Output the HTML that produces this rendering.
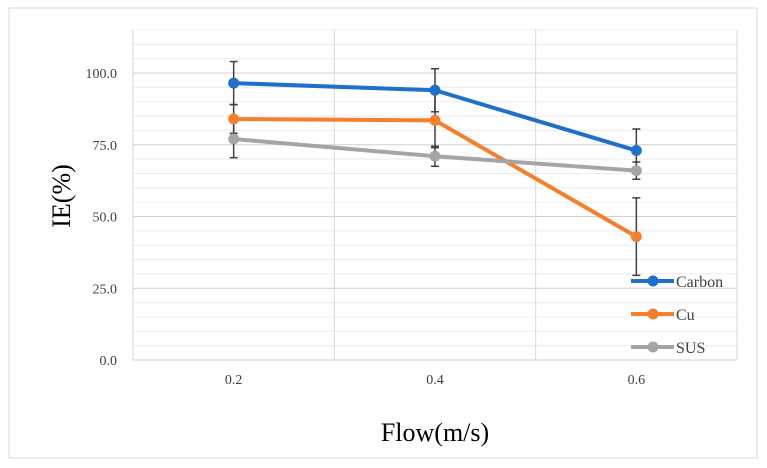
<!DOCTYPE html>
<html><head><meta charset="utf-8"><style>
body{margin:0;background:#fff;}
svg{display:block;font-family:"Liberation Serif",serif;}
</style></head><body>
<svg id="chart" width="767" height="468"></svg>
<script>
const categories=["0.2","0.4","0.6"];
const carbon=[96.5,94,73];
const cu=[84,83.5,43];
const sus=[77,71,66];
const carbonErr=[7.5,7.5,7.5];
const cuErr=[5,9.5,13.5];
const susErr=[6.5,3.5,3];
const yTicks=[0,25,50,75,100];
const seriesNames=["Carbon","Cu","SUS"];

const NS="http://www.w3.org/2000/svg";
const svg=document.getElementById('chart');
function mk(t,a,p){const e=document.createElementNS(NS,t);for(const k in a)e.setAttribute(k,a[k]);(p||svg).appendChild(e);return e;}
const L=133,R=737,T=30,B=360,yMax=115;
const y=v=>B-(v/yMax)*(B-T);
const x=i=>L+(R-L)*(i+0.5)/categories.length;

const frame=mk('rect',{x:9,y:8,width:748,height:450,fill:'#fff',stroke:'#d9d9d9'});



for(let v=5;v<=yMax;v+=5){
  const g=mk('line',{x1:L,x2:R,y1:y(v),y2:y(v),stroke:v%25===0?'#d0d0d0':'#ececec','stroke-width':1});
  
  
}
for(let i=0;i<=categories.length;i++){
  const xv=L+(R-L)*i/categories.length;
  const g=mk('line',{x1:xv,x2:xv,y1:T,y2:B,stroke:'#d9d9d9'});
  
  
}
const ax=mk('line',{x1:L,x2:R,y1:B,y2:B,stroke:'#d0d0d0'});



yTicks.forEach(v=>{
  const t=mk('text',{x:117,y:y(v)+5,'text-anchor':'end','font-size':14,fill:'#404040'});
  t.textContent=v.toFixed(1);
  
  
});
categories.forEach((c,i)=>{
  const t=mk('text',{x:x(i),y:384,'text-anchor':'middle','font-size':14,fill:'#404040'});
  t.textContent=c;
  
  
});
const yt=mk('text',{x:0,y:0,'text-anchor':'middle','font-size':26,fill:'#000',transform:'translate(70,196) rotate(-90)'});
yt.textContent='IE(%)';


const xt=mk('text',{x:435,y:441,'text-anchor':'middle','font-size':26,fill:'#000'});
xt.textContent='Flow(m/s)';



const series=[[carbon,carbonErr,'#1f6fcc'],[cu,cuErr,'#f57f2a'],[sus,susErr,'#a5a5a5']];
series.forEach(([vals,errs,col],s)=>{
  const pts=vals.map((v,i)=>x(i)+','+y(v)).join(' ');
  const pl=mk('polyline',{points:pts,fill:'none',stroke:col,'stroke-width':4,'stroke-linejoin':'round'});
  
  
});
series.forEach(([vals,errs,col],s)=>{
  vals.forEach((v,i)=>{
    const g=mk('g',{stroke:'#404040','stroke-width':1.5});
    
    
    mk('line',{x1:x(i),x2:x(i),y1:y(v+errs[i]),y2:y(v-errs[i])},g);
    mk('line',{x1:x(i)-4,x2:x(i)+4,y1:y(v+errs[i]),y2:y(v+errs[i])},g);
    mk('line',{x1:x(i)-4,x2:x(i)+4,y1:y(v-errs[i]),y2:y(v-errs[i])},g);
  });
});
series.forEach(([vals,errs,col],s)=>{
  vals.forEach((v,i)=>{
    const c=mk('circle',{cx:x(i),cy:y(v),r:5.5,fill:col});
    
    
  });
});
const legY=[281,314,347];
series.forEach(([vals,errs,col],s)=>{
  const g=mk('g',{});
  
  
  mk('line',{x1:631,x2:674,y1:legY[s],y2:legY[s],stroke:col,'stroke-width':4},g);
  mk('circle',{cx:653,cy:legY[s],r:5.5,fill:col},g);
  const t=mk('text',{x:676,y:legY[s]+6,'font-size':16,fill:'#404040'},g);
  t.textContent=seriesNames[s];
});
</script>
</body></html>
